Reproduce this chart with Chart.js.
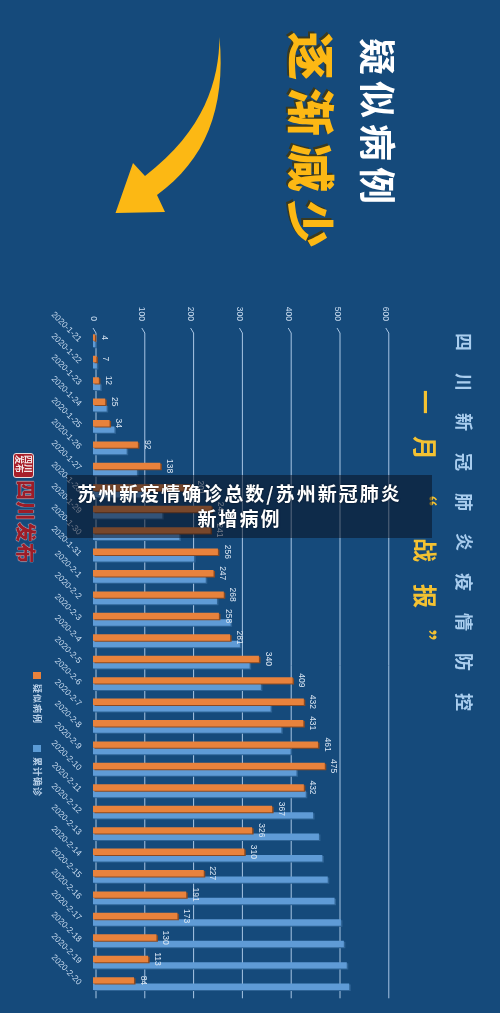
<!DOCTYPE html>
<html>
<head>
<meta charset="utf-8">
<script src="https://cdn.jsdelivr.net/npm/chart.js@4/dist/chart.umd.min.js"></script>
<style>
    html, body { margin: 0; padding: 0; background: #154a7b; }
    #stage { position: relative; width: 500px; height: 1013px; overflow: hidden; background: #154a7b; font-family: "Noto Sans CJK SC", sans-serif; }
    #chart { position: absolute; left: 0; top: 0; }
    .rot { position: absolute; white-space: nowrap; transform: rotate(90deg); transform-origin: 0 0; line-height: 1; }
    #h1 { left: 397px; top: 38px; font-size: 37px; font-weight: 700; letter-spacing: 6px; color: #fff; }
    #h2 { left: 338px; top: 32px; font-size: 48px; font-weight: 900; letter-spacing: 8px; color: #fcb814; text-shadow: -2px 2px 0 #3a3a20; }
    #sub1 { left: 474px; top: 333px; font-size: 18px; font-weight: 700; letter-spacing: 22px; color: #a9cdee; }
    #sub2 { left: 438px; top: 390px; font-size: 24px; font-weight: 700; letter-spacing: 22px; color: #f4c232; }
    .legend { font-size: 9px; font-weight: 700; color: #b9d0e8; letter-spacing: 1px; }
    .swatch { position: absolute; width: 8px; height: 7px; }
    #logo { left: 36px; top: 480px; font-size: 20px; font-weight: 900; color: #9c1c28; letter-spacing: 1px; text-shadow: 0 0 1px #f0e6e6, 0 0 1px #f0e6e6; }
    #seal { position: absolute; left: 13px; top: 453px; width: 21px; height: 25px; background: #a81f2a; border: 1.5px solid #e8dcdc; border-radius: 3px; box-sizing: border-box; }
    #sealText { left: 33px; top: 455px; font-size: 9px; font-weight: 700; color: #f3e6e6; width: 20px; white-space: normal; line-height: 9px; }
    #band { position: absolute; left: 67px; top: 475px; width: 365px; height: 63px; background: rgba(7,12,25,0.5); }
    #title { position: absolute; left: 67px; top: 480px; width: 345px; text-align: center; color: #fff; font-size: 19px; font-weight: 700; letter-spacing: 2px; line-height: 25px; text-shadow: 0 0 2px rgba(0,0,0,.6); white-space: nowrap; }
</style>
</head>
<body>
<div id="stage">
    <canvas id="chart" width="500" height="1013" style="width:500px;height:1013px"></canvas>
    <svg width="500" height="1013" style="position:absolute;left:0;top:0">
        <path d="M219.5 37 C219 80 205 130 145 176 L133 163 L115.5 213 L165 212 L157 195 C205 160 226 110 219.5 37 Z" fill="#fcb814"/>
    </svg>
    <div class="rot" id="h1">疑似病例</div>
    <div class="rot" id="h2">逐渐减少</div>
    <div class="rot" id="sub1">四川新冠肺炎疫情防控</div>
    <div class="rot" id="sub2">一月<span style="letter-spacing:32px">“</span>战报”</div>
    <div class="swatch" style="left:33px;top:672px;background:#e8823c"></div>
    <div class="rot legend" style="left:42px;top:684px">疑似病例</div>
    <div class="swatch" style="left:33px;top:745px;background:#5b9bd5"></div>
    <div class="rot legend" style="left:42px;top:757px">累计确诊</div>
    <div id="seal"></div>
    <div class="rot" id="sealText">四川<br>发布</div>
    <div class="rot" id="logo">四川发布</div>
    <div id="band"></div>
    <div id="title">苏州新疫情确诊总数/苏州新冠肺炎<br>新增病例</div>
</div>
<script>
const categories = ['2020-1-21','2020-1-22','2020-1-23','2020-1-24','2020-1-25','2020-1-26','2020-1-27','2020-1-28','2020-1-29','2020-1-30','2020-1-31',
    '2020-2-1','2020-2-2','2020-2-3','2020-2-4','2020-2-5','2020-2-6','2020-2-7','2020-2-8','2020-2-9','2020-2-10',
    '2020-2-11','2020-2-12','2020-2-13','2020-2-14','2020-2-15','2020-2-16','2020-2-17','2020-2-18','2020-2-19','2020-2-20'];
const suspected = [4,7,12,25,34,92,138,201,243,241,256,247,268,258,281,340,409,432,431,461,475,432,367,326,310,227,191,173,130,113,84];
const confirmed = [5,8,15,28,44,69,90,108,142,177,207,231,254,282,301,321,344,364,386,405,417,436,451,463,470,481,495,508,514,520,525];
const xTicks = [0,100,200,300,400,500,600];

const textColor = '#c9dcf0';
const gridColor = '#a9c6e4';

// grid sits 3px right of the bars' baseline, with a small bend at the top, like the 3D wall of the original
const wallGrid = {
    id: 'wallGrid',
    beforeDatasetsDraw(chart) {
        const { ctx, chartArea, scales: { x } } = chart;
        ctx.save();
        ctx.strokeStyle = gridColor;
        ctx.lineWidth = 1;
        x.ticks.forEach(t => {
            const px = x.getPixelForValue(t.value);
            ctx.beginPath();
            ctx.moveTo(px, chartArea.top - 2);
            ctx.lineTo(px + 3, chartArea.top + 3);
            ctx.lineTo(px + 3, chartArea.bottom + 4);
            ctx.stroke();
        });
        ctx.restore();
    },
    afterDraw(chart) {
        // value axis labels read downwards and end just above the grid
        const { ctx, chartArea, scales: { x } } = chart;
        ctx.save();
        ctx.font = '8.5px "Liberation Sans"';
        ctx.fillStyle = textColor;
        ctx.textAlign = 'right';
        ctx.textBaseline = 'middle';
        x.ticks.forEach(t => {
            ctx.save();
            ctx.translate(x.getPixelForValue(t.value), chartArea.top - 9);
            ctx.rotate(Math.PI / 2);
            ctx.fillText(t.label, 0, 0);
            ctx.restore();
        });
        ctx.restore();
    }
};

// flat darker edge right and below each bar
const barEdge = {
    id: 'barEdge',
    beforeDatasetDraw(chart, args) {
        const ctx = chart.ctx;
        ctx.save();
        ctx.shadowColor = args.index === 0 ? '#8a4a22' : '#2f6496';
        ctx.shadowBlur = 0;
        ctx.shadowOffsetX = 1.5;
        ctx.shadowOffsetY = 1;
    },
    afterDatasetDraw(chart) {
        chart.ctx.restore();
    }
};

const valueLabels = {
    id: 'valueLabels',
    afterDatasetsDraw(chart) {
        const ctx = chart.ctx;
        const meta = chart.getDatasetMeta(0);
        ctx.save();
        ctx.font = '8.5px "Liberation Sans"';
        ctx.fillStyle = '#dbe7f4';
        ctx.textAlign = 'center';
        ctx.textBaseline = 'middle';
        meta.data.forEach((bar, i) => {
            ctx.save();
            ctx.translate(bar.x + 9, bar.y);
            ctx.rotate(Math.PI / 2);
            ctx.fillText(suspected[i], 0, 0);
            ctx.restore();
        });
        ctx.restore();
    }
};

new Chart(document.getElementById('chart'), {
    type: 'bar',
    data: {
        labels: categories,
        datasets: [
            { label: '疑似病例', data: suspected, backgroundColor: '#e8823c', categoryPercentage: 0.6, barPercentage: 1 },
            { label: '累计确诊', data: confirmed, backgroundColor: '#5f9bd6', categoryPercentage: 0.6, barPercentage: 1 }
        ]
    },
    options: {
        indexAxis: 'y',
        responsive: false,
        animation: false,
        layout: { padding: { left: 0, top: 0, right: 114.2, bottom: 18.7 } },
        plugins: { legend: { display: false }, tooltip: { enabled: false } },
        scales: {
            x: {
                position: 'top',
                min: 0,
                max: 600,
                afterFit(scale) { scale.height = 330; },
                afterBuildTicks(scale) { scale.ticks = xTicks.map(v => ({ value: v, label: String(v) })); },
                grid: { display: false },
                border: { display: false },
                ticks: { display: false }
            },
            y: {
                afterFit(scale) { scale.width = 93; },
                grid: { display: false },
                border: { display: false },
                ticks: {
                    autoSkip: false,
                    minRotation: -45,
                    maxRotation: -45,
                    padding: 5,
                    color: textColor,
                    font: { family: '"Liberation Sans"', size: 8.5 }
                }
            }
        }
    },
    plugins: [wallGrid, barEdge, valueLabels]
});
</script>
</body>
</html>
